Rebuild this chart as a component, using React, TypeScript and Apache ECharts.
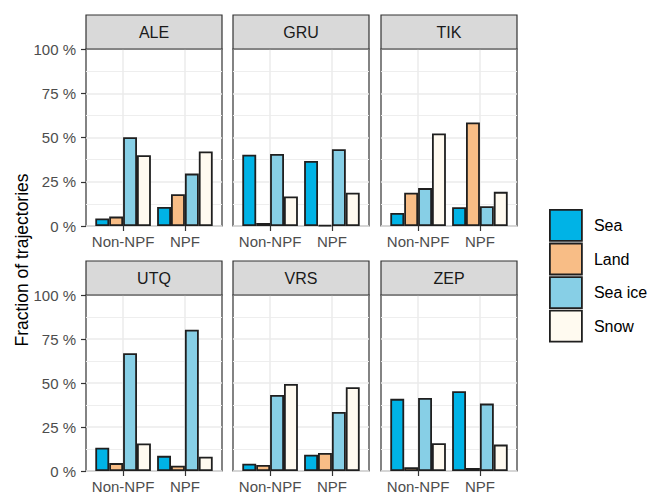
import React, { useEffect, useRef } from "react";
import * as echarts from "echarts";

const stations = ["ALE", "GRU", "TIK", "UTQ", "VRS", "ZEP"];
const categories = ["Non-NPF", "NPF"];
const landTypes = ["Sea", "Land", "Sea ice", "Snow"];
const yTicks = [0, 25, 50, 75, 100];

// percent values per station: [Non-NPF, NPF]
const seaNonNpf = [4.3, 40.3, 7.4, 13.2, 4.1, 41.0];
const seaNpf = [10.8, 36.7, 10.6, 8.6, 9.2, 45.3];
const landNonNpf = [5.3, 1.7, 18.8, 4.5, 3.4, 2.1];
const landNpf = [17.9, 0.5, 58.5, 3.0, 10.2, 1.7];
const seaIceNonNpf = [50.2, 40.7, 21.4, 66.9, 43.2, 41.5];
const seaIceNpf = [29.6, 43.4, 11.2, 80.3, 33.5, 38.3];
const snowNonNpf = [40.0, 16.7, 52.3, 15.6, 49.4, 15.8];
const snowNpf = [42.1, 18.75, 19.3, 8.1, 47.6, 15.0];

const colors = ["#00B3E6", "#F8BD86", "#87CFE6", "#FFFAF0"];

const FONT = "'Liberation Sans', Arial, Helvetica, sans-serif";

export default function App() {
  const ref = useRef<HTMLDivElement>(null);
  useEffect(() => {
    if (!ref.current) return;
    const chart = echarts.init(ref.current, undefined, { renderer: "svg" });
    const colLeft = [86, 233, 381];
    const rowTop = [49, 295];
    const pw = 136;
    const ph = 177;
    const stripH = 34;

    const valuesByType = [
      [seaNonNpf, seaNpf],
      [landNonNpf, landNpf],
      [seaIceNonNpf, seaIceNpf],
      [snowNonNpf, snowNpf],
    ];

    const grids: any[] = [];
    const xAxes: any[] = [];
    const yAxes: any[] = [];
    const series: any[] = [];
    const graphics: any[] = [];

    stations.forEach((st, p) => {
      const col = p % 3;
      const row = Math.floor(p / 3);
      const left = colLeft[col];
      const top = rowTop[row];
      grids.push({
        left,
        top,
        width: pw,
        height: ph,
        show: true,
        borderColor: "#333333",
        borderWidth: 1.2,
        backgroundColor: "transparent",
        containLabel: false,
      });
      xAxes.push({
        type: "value",
        gridIndex: p,
        min: 0.4,
        max: 2.6,
        axisLine: { show: false },
        axisTick: { show: true, customValues: [1, 2], length: 5, lineStyle: { color: "#333333", width: 1.2 } },
        axisLabel: {
          show: true,
          customValues: [1, 2],
          formatter: (v: number) => categories[Math.round(v) - 1] ?? "",
          color: "#4d4d4d",
          fontSize: 15,
          fontFamily: FONT,
          margin: 8,
        },
        splitLine: { show: false },
      });
      yAxes.push({
        type: "value",
        gridIndex: p,
        min: 0,
        max: 100,
        interval: 25,
        axisLine: { show: false },
        axisTick: { show: col === 0, length: 5, lineStyle: { color: "#333333", width: 1.2 } },
        axisLabel: {
          show: col === 0,
          formatter: (v: number) => (yTicks.includes(v) ? `${v} %` : ""),
          color: "#4d4d4d",
          fontSize: 15,
          fontFamily: FONT,
          margin: 10,
        },
        splitLine: { show: true, lineStyle: { color: "#EBEBEB", width: 1.5 } },
        minorTick: { show: false, splitNumber: 2 },
        minorSplitLine: { show: true, lineStyle: { color: "#EEEEEE", width: 1 } },
      });
      // vertical grid lines at category positions
      series.push({
        type: "line",
        xAxisIndex: p,
        yAxisIndex: p,
        data: [],
        silent: true,
        z: 1,
        markLine: {
          silent: true,
          z: 1,
          symbol: "none",
          label: { show: false },
          lineStyle: { color: "#EBEBEB", width: 1.5, type: "solid" },
          data: [{ xAxis: 1 }, { xAxis: 2 }],
          animation: false,
        },
      });
      landTypes.forEach((lt, k) => {
        series.push({
          type: "bar",
          name: lt,
          xAxisIndex: p,
          yAxisIndex: p,
          barWidth: 13.9,
          barGap: "0%",
          z: 3,
          data: categories.map((_, c) => [c + 1, valuesByType[k][c][p]]),
          itemStyle: { color: colors[k], borderColor: "#1f1f1f", borderWidth: 1.8 },
        });
      });
      graphics.push({
        type: "rect",
        shape: { x: left, y: top - stripH, width: pw, height: stripH },
        style: { fill: "#D9D9D9", stroke: "#333333", lineWidth: 1.2 },
        z: 10,
      });
      graphics.push({
        type: "text",
        x: left + pw / 2,
        y: top - stripH / 2,
        style: {
          text: st,
          fill: "#1a1a1a",
          fontSize: 16,
          fontFamily: FONT,
          textAlign: "center",
          textVerticalAlign: "middle",
        },
        z: 11,
      });
    });

    graphics.push({
      type: "text",
      x: 22,
      y: 260,
      rotation: Math.PI / 2,
      style: {
        text: "Fraction of trajectories",
        fill: "#000000",
        fontSize: 17.5,
        fontFamily: FONT,
        textAlign: "center",
        textVerticalAlign: "middle",
      },
    });

    chart.setOption({
      animation: false,
      grid: grids,
      xAxis: xAxes,
      yAxis: yAxes,
      series,
      graphic: graphics,
      legend: {
        data: landTypes,
        orient: "vertical",
        left: 549,
        top: 209,
        padding: 0,
        itemWidth: 32,
        itemHeight: 31,
        itemGap: 0.8,
        icon: "rect",
        selectedMode: false,
        itemStyle: { borderColor: "#1f1f1f", borderWidth: 1.8 },
        textStyle: { color: "#000000", fontSize: 16, fontFamily: FONT, padding: [0, 0, 0, 7] },
      },
    });
    return () => chart.dispose();
  }, []);
  return (
    <div
      ref={ref}
      style={{ position: "fixed", left: 0, top: 0, width: 653, height: 494, background: "#ffffff" }}
    />
  );
}
